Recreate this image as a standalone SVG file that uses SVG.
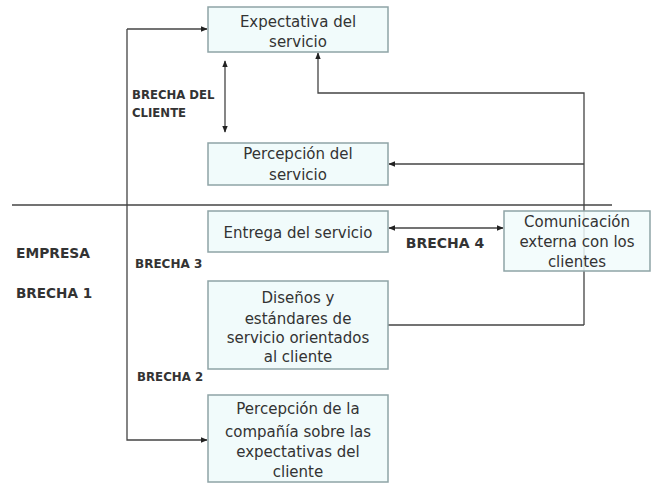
<svg xmlns="http://www.w3.org/2000/svg" width="652" height="483" viewBox="0 0 652 483">
<style>
.box{fill:#f1fbfb;stroke:#8ea4a6;stroke-width:1.5}
.t{font-family:"DejaVu Sans",sans-serif;font-size:15px;fill:#333;text-anchor:middle}
.b{font-family:"DejaVu Sans",sans-serif;font-weight:bold;fill:#333}
.ln{fill:none;stroke:#444;stroke-width:1.3}
</style>
<defs>
<marker id="ah" viewBox="0 0 10 10" refX="9" refY="5" markerWidth="7" markerHeight="7" orient="auto-start-reverse" markerUnits="userSpaceOnUse">
<path d="M0,1 L10,5 L0,9 Z" fill="#222"/>
</marker>
</defs>
<rect width="652" height="483" fill="#fff"/>
<g id="connectors">
<line class="ln" x1="12" y1="205" x2="612" y2="205"/>
<polyline class="ln" points="127,29 127,440 207,440" marker-end="url(#ah)"/>
<line class="ln" x1="127" y1="29" x2="207" y2="29" marker-end="url(#ah)"/>
<line class="ln" x1="225" y1="61" x2="225" y2="132" marker-start="url(#ah)" marker-end="url(#ah)"/>
<polyline class="ln" points="584,325 584,93 318,93 318,53" marker-end="url(#ah)"/>
<line class="ln" x1="584" y1="164" x2="389" y2="164" marker-end="url(#ah)"/>
<line class="ln" x1="388" y1="325" x2="584" y2="325"/>
<line class="ln" x1="389" y1="228" x2="503" y2="228" marker-start="url(#ah)" marker-end="url(#ah)"/>
</g>
<g id="expectativa">
<rect class="box" x="208" y="7" width="180" height="45"/>
<text class="t" x="298" y="27">Expectativa del</text>
<text class="t" x="298" y="47">servicio</text>
</g>
<g id="percepcion">
<rect class="box" x="208" y="143" width="180" height="42"/>
<text class="t" x="298" y="159">Percepción del</text>
<text class="t" x="298" y="180">servicio</text>
</g>
<g id="entrega">
<rect class="box" x="208" y="211" width="180" height="41"/>
<text class="t" x="298" y="238">Entrega del servicio</text>
</g>
<g id="comunicacion">
<rect class="box" x="504" y="211" width="146" height="60" fill-opacity="0.85"/>
<text class="t" x="577" y="227">Comunicación</text>
<text class="t" x="577" y="247">externa con los</text>
<text class="t" x="577" y="267">clientes</text>
</g>
<g id="disenos">
<rect class="box" x="208" y="281" width="180" height="88"/>
<text class="t" x="298" y="303">Diseños y</text>
<text class="t" x="298" y="324">estándares de</text>
<text class="t" x="298" y="343">servicio orientados</text>
<text class="t" x="298" y="362">al cliente</text>
</g>
<g id="percepcion-compania">
<rect class="box" x="208" y="395" width="180" height="87"/>
<text class="t" x="298" y="414">Percepción de la</text>
<text class="t" x="298" y="437">compañía sobre las</text>
<text class="t" x="298" y="457">expectativas del</text>
<text class="t" x="298" y="477">cliente</text>
</g>
<g id="labels">
<text class="b" x="132" y="99" font-size="11.7">BRECHA DEL</text>
<text class="b" x="132" y="117" font-size="11.7">CLIENTE</text>
<text class="b" x="16" y="258" font-size="13.8">EMPRESA</text>
<text class="b" x="16" y="298" font-size="13.6">BRECHA 1</text>
<text class="b" x="135" y="268" font-size="12">BRECHA 3</text>
<text class="b" x="137" y="381" font-size="11.8">BRECHA 2</text>
<text class="b" x="445" y="248" font-size="14" text-anchor="middle">BRECHA 4</text>
</g>
</svg>
